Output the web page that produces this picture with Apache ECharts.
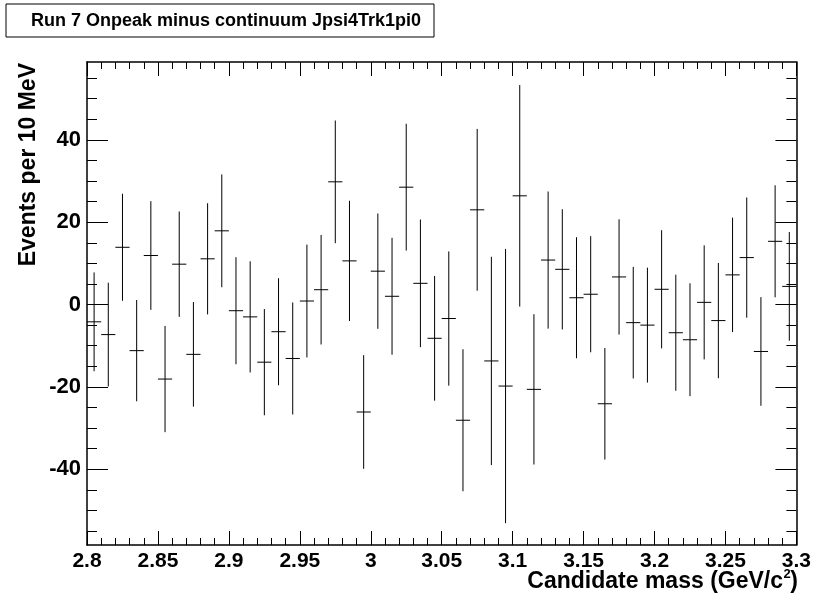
<!DOCTYPE html>
<html>
<head>
<meta charset="utf-8">
<title>Run 7 Onpeak minus continuum Jpsi4Trk1pi0</title>
<script src="https://cdn.jsdelivr.net/npm/echarts@6/dist/echarts.min.js"></script>
<style>
  html, body { margin: 0; padding: 0; background: #fff; }
  #chart { width: 814px; height: 600px; }
</style>
</head>
<body>
<div id="chart"></div>
<script>
// histogram binning (10 MeV bins)
var xMin = 2.8;
var xMax = 3.3;
var binWidth = 0.01;
var yMin = -58.4;
var yMax = 58.9;

// bin contents and errors
var values = [
  -4.2, -7.3, 13.9, -11.2, 11.9, -18.1, 9.8, -12.1, 11.1, 17.9,
  -1.5, -3.0, -14.0, -6.6, -13.1, 0.85, 3.6, 29.8, 10.6, -26.1,
  8.1, 2.0, 28.5, 5.15, -8.2, -3.4, -28.1, 23.0, -13.7, -19.8,
  26.4, -20.6, 10.8, 8.55, 1.65, 2.5, -24.1, 6.7, -4.4, -5.0,
  3.7, -6.85, -8.55, 0.53, -3.9, 7.2, 11.4, -11.4, 15.35, 4.4
];
var errors = [
  12.0, 12.6, 13.0, 12.3, 13.2, 12.9, 12.8, 12.7, 13.5, 13.7,
  13.0, 13.5, 12.9, 13.0, 13.6, 13.7, 13.3, 14.9, 14.6, 13.8,
  14.0, 14.2, 15.4, 15.5, 15.15, 16.3, 17.25, 19.65, 25.3, 33.3,
  26.9, 18.25, 16.65, 14.6, 14.7, 14.1, 13.55, 14.0, 13.55, 13.95,
  14.35, 14.1, 13.7, 13.85, 14.0, 13.9, 14.6, 13.2, 13.6, 13.2
];

// tick labels
var xTicks = [2.8, 2.85, 2.9, 2.95, 3, 3.05, 3.1, 3.15, 3.2, 3.25, 3.3];
var yTicks = [-40, -20, 0, 20, 40];
var xMinorStep = 0.01;
var yMinorStep = 5;

function minorTicks(lo, hi, step) {
  var out = [];
  var n0 = Math.ceil(lo / step - 1e-9), n1 = Math.floor(hi / step + 1e-9);
  for (var n = n0; n <= n1; n++) out.push(+(n * step).toFixed(6));
  return out;
}
var xMinor = minorTicks(xMin, xMax, xMinorStep);
var yMinor = minorTicks(yMin, yMax, yMinorStep);

var data = values.map(function (v, i) {
  var lo = +(xMin + i * binWidth).toFixed(4);
  return [lo, +(lo + binWidth).toFixed(4), v, errors[i]];
});

var font = "'Liberation Sans', Arial, Helvetica, sans-serif";

function xAxisDef(pos, major) {
  return {
    type: 'value', position: pos, min: xMin, max: xMax,
    axisLine: { show: major, onZero: false, lineStyle: { color: '#000', width: 1.5 } },
    axisTick: { show: true, inside: true, length: major ? 14 : 7,
      customValues: major ? xTicks : xMinor, lineStyle: { color: '#000', width: 1 } },
    axisLabel: { show: major && pos === 'bottom', customValues: xTicks, margin: 6,
      color: '#000', fontSize: 21, fontWeight: 'bold', fontFamily: font,
      formatter: function (v) { return String(+v.toFixed(2)); } },
    splitLine: { show: false }
  };
}
function yAxisDef(pos, major) {
  return {
    type: 'value', position: pos, min: yMin, max: yMax,
    axisLine: { show: major, onZero: false, lineStyle: { color: '#000', width: 1.5 } },
    axisTick: { show: true, inside: true, length: major ? 21 : 10,
      customValues: major ? yTicks : yMinor, lineStyle: { color: '#000', width: 1 } },
    axisLabel: { show: major && pos === 'left', customValues: yTicks, margin: 6,
      color: '#000', fontSize: 22, fontWeight: 'bold', fontFamily: font },
    splitLine: { show: false }
  };
}

var myChart = echarts.init(document.getElementById('chart'));
myChart.setOption({
  backgroundColor: '#fff',
  animation: false,
  grid: { left: 87, right: 16, top: 62, bottom: 55 },
  xAxis: [xAxisDef('bottom', true), xAxisDef('bottom', false), xAxisDef('top', true), xAxisDef('top', false)],
  yAxis: [yAxisDef('left', true), yAxisDef('left', false), yAxisDef('right', true), yAxisDef('right', false)],
  graphic: [
    {
      type: 'rect', shape: { x: 6, y: 4, width: 428, height: 33 },
      style: { fill: '#fff', stroke: '#000', lineWidth: 1 }
    },
    {
      type: 'text', x: 31, y: 21,
      style: { text: 'Run 7 Onpeak minus continuum Jpsi4Trk1pi0', fill: '#000',
        font: 'bold 18px ' + font, verticalAlign: 'middle', align: 'left' }
    },
    {
      type: 'text', x: 28.5, y: 63, rotation: Math.PI / 2,
      style: { text: 'Events per 10 MeV', fill: '#000',
        font: 'bold 23px ' + font, verticalAlign: 'middle', align: 'right' }
    },
    // x axis title, superscript drawn as its own piece
    {
      type: 'text', x: 783, y: 582,
      style: { text: 'Candidate mass (GeV/c', fill: '#000',
        font: 'bold 23px ' + font, verticalAlign: 'middle', align: 'right' }
    },
    {
      type: 'text', x: 783.5, y: 574,
      style: { text: '2', fill: '#000',
        font: 'bold 13px ' + font, verticalAlign: 'middle', align: 'left' }
    },
    {
      type: 'text', x: 798, y: 582,
      style: { text: ')', fill: '#000',
        font: 'bold 23px ' + font, verticalAlign: 'middle', align: 'right' }
    }
  ],
  series: [{
    type: 'custom',
    xAxisIndex: 0, yAxisIndex: 0,
    data: data,
    encode: { x: [0, 1], y: 2 },
    renderItem: function (params, api) {
      var lo = api.value(0), hi = api.value(1), v = api.value(2), e = api.value(3);
      var mid = (lo + hi) / 2;
      var pL = api.coord([lo, v]), pR = api.coord([hi, v]);
      var pT = api.coord([mid, v + e]), pB = api.coord([mid, v - e]);
      var st = { stroke: '#000', lineWidth: 1 };
      return {
        type: 'group',
        children: [
          { type: 'line', shape: { x1: pL[0], y1: pL[1], x2: pR[0], y2: pR[1] }, style: st },
          { type: 'line', shape: { x1: pT[0], y1: pT[1], x2: pB[0], y2: pB[1] }, style: st }
        ]
      };
    }
  }]
});
window.addEventListener('resize', function () { myChart.resize(); });
</script>
</body>
</html>
